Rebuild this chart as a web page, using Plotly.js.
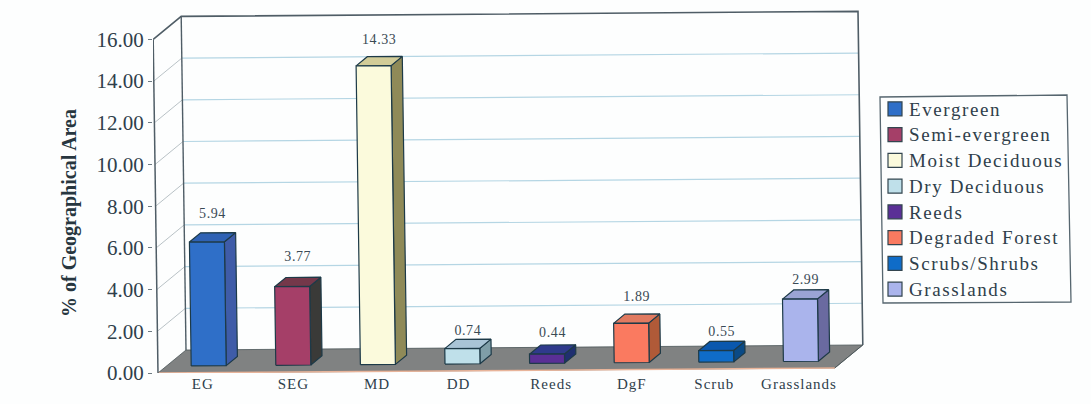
<!DOCTYPE html>
<html>
<head>
<meta charset="utf-8">
<script src="https://cdn.plot.ly/plotly-3.0.1.min.js"></script>
<style>
  html, body { margin: 0; padding: 0; background: #fdfefe; }
  #chart { width: 1091px; height: 404px; }
  .legendtext { font-size: 19px !important; letter-spacing: 1.6px; }
  .legendpoints { translate: 6px 0; }
  .xtick text { letter-spacing: 1px; }
  .textpoint text { letter-spacing: 0.6px; }
  .ytitle { translate: 0 24px; }
</style>
</head>
<body>
<div id="chart"></div>
<script>
// Forest cover classes and their share of geographical area
const categories = ["EG", "SEG", "MD", "DD", "Reeds", "DgF", "Scrub", "Grasslands"];
const classNames = ["Evergreen", "Semi-evergreen", "Moist Deciduous", "Dry Deciduous", "Reeds", "Degraded Forest", "Scrubs/Shrubs", "Grasslands"];
const values = [5.94, 3.77, 14.33, 0.74, 0.44, 1.89, 0.55, 2.99];
const yTicks = [0, 2, 4, 6, 8, 10, 12, 14, 16];

// Face colours of each column
const frontColors = ["#2f6fc8", "#a53f68", "#fbfadc", "#bfe0ea", "#5a2f96", "#fa7a60", "#0f6cc8", "#aab4ec"];
const topColors = ["#2f62b4", "#74384a", "#d2cc98", "#a9c4d6", "#2f3a8c", "#e07a60", "#0a58ae", "#9aa4d4"];
const sideColors = ["#3f5ca8", "#3a3a38", "#8f8a58", "#7f9ea8", "#1f2f70", "#b05a38", "#0a4a86", "#6a6aa0"];

// Height of each value label above its column, and sideways nudge of each category label, in pixels
const labelLift = [18, 20, 16, 8, 11, 17, 9, 9];
const tickNudge = [-6, 0, -1, -4, 4, 0, -2, -2];

const PX_PER_CAT = 84.6, PX_PER_UNIT = 20.85;
const OUTLINE = "#1d3a48", WALL = "#4f5d66";
const MARGIN = { l: 153, r: 221, t: 5, b: 31 };
const PLOT_W = 1091 - MARGIN.l - MARGIN.r, PLOT_H = 404 - MARGIN.t - MARGIN.b;

// Oblique projection: category position, value and depth (0 front, 1 back) to axis coordinates
function project(c, v, d) {
  return [c + (-0.3 * v + 28 * d) / PX_PER_CAT,
          v + (0.63 * c + 23 * d) / PX_PER_UNIT];
}

function polygon(points, fill, lineColor, lineWidth) {
  const xy = points.map(p => project(p[0], p[1], p[2]));
  return {
    type: "scatter", mode: "lines", x: xy.map(p => p[0]), y: xy.map(p => p[1]),
    fill: fill ? "toself" : "none", fillcolor: fill || undefined,
    line: { color: lineColor, width: lineWidth }, showlegend: false, hoverinfo: "skip", cliponaxis: false
  };
}

const traces = [];
const nCat = categories.length;

// Chart box: floor, back wall grid, side wall grid, frame
traces.push(polygon([[0,0,0],[nCat,0,0],[nCat,0,1],[0,0,1],[0,0,0]], "#808282", "#4a5558", 0.8));
yTicks.filter(t => t > 0 && t < 16).forEach(t => {
  traces.push(polygon([[0,t,0],[0,t,1]], null, "#b9c2c6", 1));
  traces.push(polygon([[0,t,1],[nCat,t,1]], null, "#b5d6e4", 1.2));
});
traces.push(polygon([[0,0,0],[nCat,0,0]], null, "#e8b49a", 1.5));
traces.push(polygon([[0,16,0],[0,0,0]], null, WALL, 1.5));
traces.push(polygon([[0,16,0],[0,16,1],[nCat,16,1],[nCat,0,1]], null, WALL, 1.6));
traces.push(polygon([[0,16,1],[0,0,1]], null, WALL, 1.4));
traces.push(polygon([[nCat,0,1],[nCat,0,0]], null, "#4a5558", 0.8));

// Columns: side, top and front faces
const HALF = 35 / 2 / PX_PER_CAT, D0 = 0.3, D1 = 0.7;
values.forEach((v, i) => {
  const a = i + 0.5 - HALF, b = i + 0.5 + HALF;
  traces.push(polygon([[b,0,D0],[b,0,D1],[b,v,D1],[b,v,D0],[b,0,D0]], sideColors[i], OUTLINE, 1.2));
  traces.push(polygon([[a,v,D0],[b,v,D0],[b,v,D1],[a,v,D1],[a,v,D0]], topColors[i], OUTLINE, 1.2));
  traces.push(polygon([[a,0,D0],[b,0,D0],[b,v,D0],[a,v,D0],[a,0,D0]], frontColors[i], OUTLINE, 1.2));
});

// Value labels above the columns
const labelPos = values.map((v, i) => {
  const p = project(i + 0.5, v, D1);
  const q = project(i + 0.5, v, 0.5);
  return [q[0], p[1] + labelLift[i] / PX_PER_UNIT];
});
traces.push({
  type: "scatter", mode: "text", x: labelPos.map(p => p[0]), y: labelPos.map(p => p[1]),
  text: values.map(v => v.toFixed(2)), textposition: "middle center",
  textfont: { family: "Liberation Serif", size: 14, color: "#3a4a55" },
  showlegend: false, hoverinfo: "skip", cliponaxis: false
});

// Legend entries, one per class
classNames.forEach((name, i) => {
  traces.push({
    type: "scatter", mode: "markers", x: [null], y: [null], name: name,
    marker: { symbol: "square", size: 14, color: frontColors[i], line: { color: "#33454f", width: 1.2 } }
  });
});

// Slightly skewed frame around the legend, given in page pixels
const toPaper = (px, py) => [(px - MARGIN.l) / PLOT_W, 1 - (py - MARGIN.t) / PLOT_H];
const legendFrame = [[880, 97], [1067, 95], [1071, 302], [883, 303]]
  .map(p => toPaper(p[0], p[1]));

const layout = {
  width: 1091, height: 404,
  margin: MARGIN,
  paper_bgcolor: "#fdfefe", plot_bgcolor: "rgba(0,0,0,0)",
  showlegend: true,
  shapes: [{
    type: "path", xref: "paper", yref: "paper", layer: "below",
    path: "M" + legendFrame.map(p => p[0] + "," + p[1]).join("L") + "Z",
    line: { color: "#56666f", width: 1.3 }, fillcolor: "rgba(0,0,0,0)"
  }],
  legend: {
    x: (869 - MARGIN.l) / PLOT_W, xanchor: "left", xref: "paper",
    y: 1 - (199 - MARGIN.t) / PLOT_H, yanchor: "middle",
    bgcolor: "rgba(0,0,0,0)", borderwidth: 0,
    font: { family: "Liberation Serif", size: 17.5, color: "#2f404b" },
    itemwidth: 30, traceorder: "normal"
  },
  xaxis: {
    range: [-5 / PX_PER_CAT, 712 / PX_PER_CAT],
    tickmode: "array",
    tickvals: categories.map((_, i) => i + 0.6 + tickNudge[i] / PX_PER_CAT),
    ticktext: categories,
    ticks: "", showline: false, showgrid: false, zeroline: false,
    tickfont: { family: "Liberation Serif", size: 15, color: "#2f404b" },
    fixedrange: true
  },
  yaxis: {
    range: [0, PLOT_H / PX_PER_UNIT],
    tickmode: "array", tickvals: yTicks, ticktext: yTicks.map(t => t.toFixed(2)),
    ticks: "outside", ticklen: 4, tickcolor: "#6d7a82", tickwidth: 1,
    showline: false, showgrid: false, zeroline: false,
    tickfont: { family: "Liberation Serif", size: 21, color: "#2f404b" },
    title: { text: "% of Geographical Area", standoff: 14,
             font: { family: "Liberation Serif", size: 20, color: "#27363f", weight: 700 } },
    fixedrange: true
  }
};

Plotly.newPlot("chart", traces, layout, { displayModeBar: false, staticPlot: true });
</script>
</body>
</html>
